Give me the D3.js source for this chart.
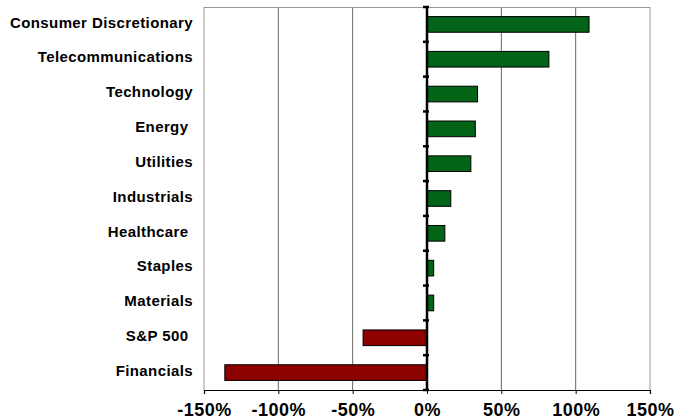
<!DOCTYPE html>
<html>
<head>
<meta charset="utf-8">
<script src="https://cdn.jsdelivr.net/npm/d3@7"></script>
<style>
  body { margin: 0; background: #fff; }
  svg { font-family: "Liberation Sans", Arial, sans-serif; }
  .catLabel { font-size: 15px; font-weight: bold; white-space: pre; letter-spacing: 0.4px; }
  .xAxis text { font-size: 18px; font-weight: bold; fill: #000; letter-spacing: 0.5px; }
</style>
</head>
<body>
<script>
// Sectors, top to bottom (trailing spaces kept as in the original)
var sectors = ["Consumer Discretionary", "Telecommunications", "Technology", "Energy ",
  "Utilities", "Industrials", "Healthcare ", "Staples", "Materials", "S&P 500 ", "Financials"];

// Percentage change
var changes = [109, 82, 34, 32.5, 29.5, 16, 12, 4.5, 4.5, -43, -136];

// X axis ticks
var xTicks = [-150, -100, -50, 0, 50, 100, 150];

var svgWidth = 686;
var svgHeight = 419;

var margin = { top: 7, right: 36, bottom: 29, left: 204 };
var chartWidth = svgWidth - margin.left - margin.right;
var chartHeight = svgHeight - margin.top - margin.bottom;

var svg = d3.select("body")
  .append("svg")
  .attr("width", svgWidth)
  .attr("height", svgHeight);

var chartGroup = svg.append("g")
  .attr("transform", `translate(${margin.left}, ${margin.top})`);

var xScale = d3.scaleLinear()
  .domain([-150, 150])
  .range([0, chartWidth]);

var yScale = d3.scaleBand()
  .domain(sectors)
  .range([0, chartHeight])
  .paddingInner(0.55)
  .paddingOuter(0.275);

// vertical gridlines
chartGroup.selectAll(".grid")
  .data(xTicks.filter(d => d !== 0))
  .enter()
  .append("line")
  .attr("x1", d => xScale(d))
  .attr("x2", d => xScale(d))
  .attr("y1", 0)
  .attr("y2", chartHeight)
  .attr("stroke", d => Math.abs(d) === 150 ? "#999" : "#666")
  .attr("stroke-width", 1);

// top border
chartGroup.append("line")
  .attr("x1", 0).attr("x2", chartWidth)
  .attr("y1", 0.5).attr("y2", 0.5)
  .attr("stroke", "#999");

// bars
chartGroup.selectAll("rect.bar")
  .data(changes)
  .enter()
  .append("rect")
  .attr("class", "bar")
  .attr("x", d => xScale(Math.min(0, d)))
  .attr("y", (d, i) => yScale(sectors[i]))
  .attr("width", d => Math.abs(xScale(d) - xScale(0)))
  .attr("height", yScale.bandwidth())
  .attr("fill", d => d >= 0 ? "#036317" : "#8c0000")
  .attr("stroke", "#000")
  .attr("stroke-width", 1);

// bottom axis
var bottomAxis = d3.axisBottom(xScale)
  .tickValues(xTicks)
  .tickSize(4)
  .tickPadding(9)
  .tickFormat(d => d + "%");

chartGroup.append("g")
  .attr("class", "xAxis")
  .attr("transform", `translate(0, ${chartHeight})`)
  .call(bottomAxis)
  .call(g => g.select(".domain").attr("stroke", "#000").attr("stroke-width", 1.2));

// zero axis with ticks between categories
var boundaries = d3.range(sectors.length + 1).map(i => i * yScale.step());
chartGroup.append("line")
  .attr("x1", xScale(0)).attr("x2", xScale(0))
  .attr("y1", 0).attr("y2", chartHeight)
  .attr("stroke", "#000")
  .attr("stroke-width", 2.5);

chartGroup.selectAll(".zeroTick")
  .data(boundaries)
  .enter()
  .append("line")
  .attr("x1", xScale(0) - 4)
  .attr("x2", xScale(0) + 2)
  .attr("y1", d => d)
  .attr("y2", d => d)
  .attr("stroke", "#000")
  .attr("stroke-width", 2.5);

// category labels
chartGroup.selectAll("text.catLabel")
  .data(sectors)
  .enter()
  .append("text")
  .attr("class", "catLabel")
  .attr("x", -11)
  .attr("y", d => yScale(d) + yScale.bandwidth() / 2 - 2)
  .attr("dy", "0.35em")
  .attr("text-anchor", "end")
  .text(d => d);
</script>
</body>
</html>
